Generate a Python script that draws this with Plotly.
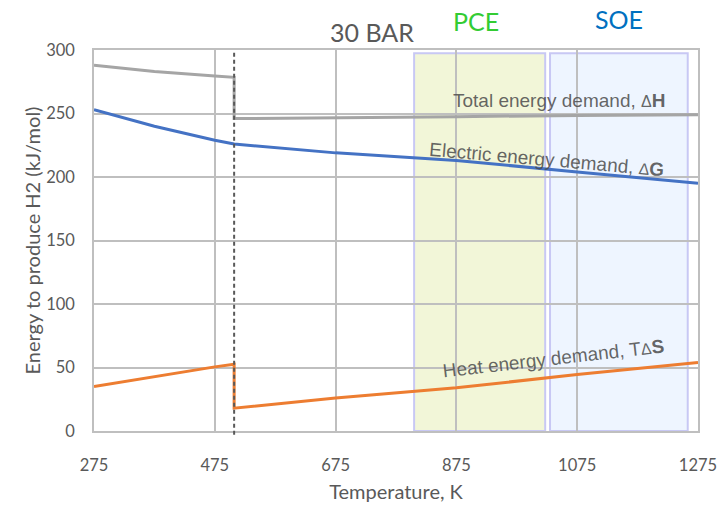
import plotly.graph_objects as go

# Temperature grid (K); 507 K appears twice for the phase-change step at 30 bar
temperature = [275, 375, 475, 507, 507, 675, 875, 1075, 1275]
total_dH = [288, 283, 279.5, 278.5, 246, 246.5, 247.5, 248.5, 249]
electric_dG = [253, 240, 229, 226, 226, 219, 213, 204, 195]
heat_TdS = [35, 43, 50.5, 52.5, 18, 26, 34, 44.5, 54]

boiling_T = 507
pce_range = [805, 1022]
soe_range = [1030, 1258]
band_top = 297.5

x_ticks = [275, 475, 675, 875, 1075, 1275]
y_ticks = [0, 50, 100, 150, 200, 250, 300]

W, H = 728, 508
L, R, T, B = 94, 30, 50, 77

TICK_FONT = "Lato, Open Sans, sans-serif"
LABEL_FONT = "Liberation Sans, Arial, sans-serif"
GREY_TXT = "#595959"

fig = go.Figure()

series = [
    (total_dH, "#A5A5A5", "Total energy demand"),
    (electric_dG, "#4472C4", "Electric energy demand"),
    (heat_TdS, "#ED7D31", "Heat energy demand"),
]
for vals, col, name in series:
    fig.add_trace(go.Scatter(
        x=temperature, y=vals, mode="lines", name=name,
        line=dict(color=col, width=3), showlegend=False,
    ))

# Operating windows for the two electrolyser types
for (x0, x1), fill in [(pce_range, "#F2F6D8"), (soe_range, "#EEF5FF")]:
    fig.add_shape(type="rect", xref="x", yref="y", x0=x0, x1=x1, y0=0, y1=band_top,
                  fillcolor=fill, line=dict(color="#C8C8F4", width=2), layer="below")

# Boiling point of water at 30 bar
fig.add_shape(type="line", xref="x", yref="paper", x0=boiling_T, x1=boiling_T,
              y0=-0.01, y1=1, line=dict(color="#595959", width=2, dash="4px,3px"),
              layer="above")


def px_to_paper(px, py):
    return (px - L) / (W - L - R), (H - B - py) / (H - T - B)


def note(text, px, py, size, color, angle=0, family=TICK_FONT):
    x, y = px_to_paper(px, py)
    fig.add_annotation(text=text, x=x, y=y, xref="paper", yref="paper",
                       showarrow=False, textangle=angle, xanchor="center", yanchor="middle",
                       font=dict(family=family, size=size, color=color))


note("30 BAR", 372, 32, 25, GREY_TXT)
note("PCE", 476, 21, 25, "#33CC33")
note("SOE", 619, 19, 25, "#0070C0")

lab_col = "rgba(75,75,75,0.85)"
delta = "<span style='font-size:16px'>Δ</span>"
note("Total energy demand, " + delta + "<b>H</b>", 559, 100, 19, lab_col, 0, LABEL_FONT)
note("Electric energy demand, " + delta + "<b>G</b>", 547, 159, 19, lab_col, 5, LABEL_FONT)
note("Heat energy demand, T" + delta + "<b>S</b>", 553, 358, 19, lab_col, -6.5, LABEL_FONT)

fig.update_layout(
    width=W, height=H,
    margin=dict(l=L, r=R, t=T, b=B),
    paper_bgcolor="white", plot_bgcolor="rgba(0,0,0,0)",
    font=dict(family=TICK_FONT, color=GREY_TXT),
)
fig.update_xaxes(
    range=[275, 1275], tickvals=x_ticks, ticktext=[str(v) for v in x_ticks],
    automargin=False,
    showgrid=True, gridcolor="#BFBFBF", gridwidth=1.5,
    showline=True, linecolor="#BFBFBF", linewidth=1.5, mirror=True,
    ticks="outside", ticklen=18, tickcolor="rgba(0,0,0,0)",
    tickfont=dict(size=16.5, color=GREY_TXT, family=TICK_FONT),
    title=dict(text="Temperature, K", standoff=11,
               font=dict(size=20, color=GREY_TXT, family=TICK_FONT)),
    zeroline=False,
)
fig.update_yaxes(
    range=[0, 300], tickvals=y_ticks,
    automargin=False,
    showgrid=True, gridcolor="#BFBFBF", gridwidth=1.5,
    showline=True, linecolor="#BFBFBF", linewidth=1.5, mirror=True,
    ticks="outside", ticklen=14, tickcolor="rgba(0,0,0,0)",
    tickfont=dict(size=16.5, color=GREY_TXT, family=TICK_FONT),
    title=dict(text="Energy to produce H2 (kJ/mol)", standoff=0,
               font=dict(size=20, color=GREY_TXT, family=TICK_FONT)),
    zeroline=False,
)

fig.write_html("out.html")
